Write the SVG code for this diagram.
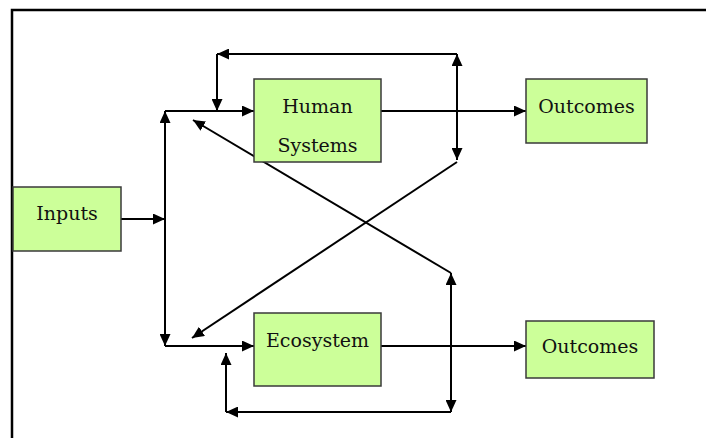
<svg xmlns="http://www.w3.org/2000/svg" width="706" height="438" viewBox="0 0 706 438">
  <style>
    .box { fill: #ccff99; stroke: #3a3a3a; stroke-width: 1.5; }
    .lbl { font-family: "DejaVu Serif", "Liberation Serif", serif; font-size: 19px; fill: #111; text-anchor: middle; }
    .ln { fill: none; stroke: #000; stroke-width: 2; }
    .frame { fill: none; stroke: #000; stroke-width: 2.5; }
  </style>
  <defs>
    <marker id="ah" markerUnits="userSpaceOnUse" markerWidth="13" markerHeight="11" refX="12" refY="5.5" orient="auto-start-reverse">
      <path d="M0,0 L12,5.5 L0,11 z" fill="#000"/>
    </marker>
  </defs>
  <rect width="706" height="438" fill="#fff"/>
  <!-- outer frame (top and left edges) -->
  <path class="frame" d="M12,440 L12,10 L708,10"/>

  <g id="connectors">
    <!-- inputs into the splitter bar -->
    <line class="ln" x1="121" y1="219" x2="165" y2="219" marker-end="url(#ah)"/>
    <!-- splitter bar, arrows at both ends -->
    <line class="ln" x1="165" y1="219" x2="165" y2="111" marker-end="url(#ah)"/>
    <line class="ln" x1="165" y1="219" x2="165" y2="346" marker-end="url(#ah)"/>
    <!-- branches into the two systems -->
    <line class="ln" x1="165" y1="111" x2="254" y2="111" marker-end="url(#ah)"/>
    <line class="ln" x1="165" y1="346" x2="254" y2="346" marker-end="url(#ah)"/>
    <!-- systems to outcomes -->
    <line class="ln" x1="381" y1="111" x2="526" y2="111" marker-end="url(#ah)"/>
    <line class="ln" x1="381" y1="346" x2="526" y2="346" marker-end="url(#ah)"/>
    <!-- top feedback loop -->
    <line class="ln" x1="457" y1="106" x2="457" y2="54" marker-end="url(#ah)"/>
    <line class="ln" x1="457" y1="106" x2="457" y2="160" marker-end="url(#ah)"/>
    <line class="ln" x1="457" y1="54" x2="217" y2="54" marker-end="url(#ah)"/>
    <line class="ln" x1="217" y1="54" x2="217" y2="111" marker-end="url(#ah)"/>
    <!-- bottom feedback loop -->
    <line class="ln" x1="451" y1="342" x2="451" y2="273" marker-end="url(#ah)"/>
    <line class="ln" x1="451" y1="342" x2="451" y2="412" marker-end="url(#ah)"/>
    <line class="ln" x1="451" y1="412" x2="226" y2="412" marker-end="url(#ah)"/>
    <line class="ln" x1="226" y1="412" x2="226" y2="353" marker-end="url(#ah)"/>
    <!-- cross links -->
    <line class="ln" x1="457" y1="162" x2="192" y2="338" marker-end="url(#ah)"/>
    <line class="ln" x1="451" y1="273" x2="193" y2="120" marker-end="url(#ah)"/>
  </g>

  <g id="inputs">
    <rect class="box" x="13" y="187" width="108" height="64"/>
    <text class="lbl" x="67" y="220">Inputs</text>
  </g>
  <g id="human-systems">
    <rect class="box" x="254" y="79" width="127" height="83"/>
    <text class="lbl" x="317.5" y="113">Human</text>
    <text class="lbl" x="317.5" y="152">Systems</text>
  </g>
  <g id="ecosystem">
    <rect class="box" x="254" y="313" width="127" height="73"/>
    <text class="lbl" x="317.5" y="347">Ecosystem</text>
  </g>
  <g id="outcomes-top">
    <rect class="box" x="526" y="79" width="121" height="64"/>
    <text class="lbl" x="586.5" y="113">Outcomes</text>
  </g>
  <g id="outcomes-bottom">
    <rect class="box" x="526" y="321" width="128" height="57"/>
    <text class="lbl" x="590" y="353">Outcomes</text>
  </g>
</svg>
